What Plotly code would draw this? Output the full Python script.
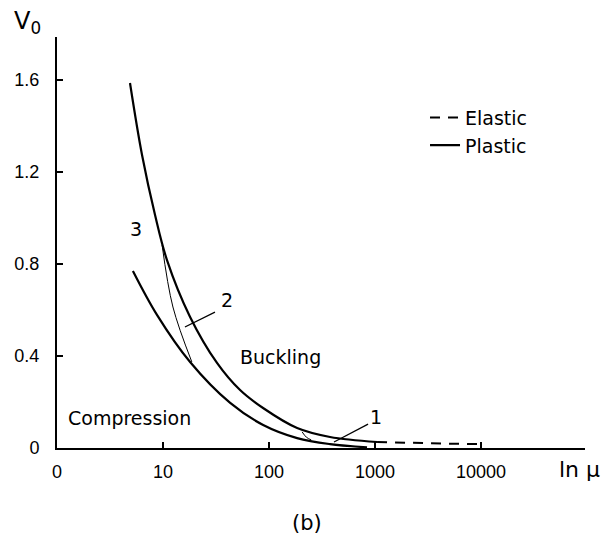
import math
import plotly.graph_objects as go

# ---- data (mu on log axis, V0) ----
upper_mu = [4.88, 6.34, 8.41, 10.9, 18.0, 32.3, 53.3, 87.8, 184, 376, 1044]
upper_v = [1.587, 1.274, 1.013, 0.817, 0.570, 0.370, 0.252, 0.174, 0.087, 0.048, 0.026]

lower_mu = [5.2, 8.8, 18, 43, 88, 184, 376, 840]
lower_v = [0.77, 0.578, 0.374, 0.196, 0.10, 0.043, 0.017, 0.003]

elastic_mu = [1044, 2000, 5000, 9400]
elastic_v = [0.026, 0.022, 0.019, 0.017]

thin3_mu = [9.8, 12.4, 18.7]
thin3_v = [0.883, 0.613, 0.374]

thin1_mu = [205, 225, 250]
thin1_v = [0.07, 0.047, 0.035]

lead2_mu = [16.1, 30.9]
lead2_v = [0.526, 0.591]
lead1_mu = [410, 859]
lead1_v = [0.026, 0.104]

x_tickvals = [1, 10, 100, 1000, 10000]
x_ticktext = ["0", "10", "100", "1000", "10000"]
y_tickvals = [0, 0.4, 0.8, 1.2, 1.6]
y_ticktext = ["0", "0.4", "0.8", "1.2", "1.6"]

labels = [("3", 5.56, 0.952), ("2", 40.2, 0.643), ("1", 1023, 0.135),
          ("Buckling", 127, 0.396), ("Compression", 4.78, 0.13)]

fig = go.Figure()
fig.add_trace(go.Scatter(x=elastic_mu, y=elastic_v, mode="lines", name="Elastic",
                         line=dict(color="black", width=2, dash="10px,8px")))
fig.add_trace(go.Scatter(x=upper_mu, y=upper_v, mode="lines", name="Plastic",
                         line=dict(color="black", width=2.2, shape="spline")))
fig.add_trace(go.Scatter(x=lower_mu, y=lower_v, mode="lines", showlegend=False,
                         line=dict(color="black", width=2.2, shape="spline")))
fig.add_trace(go.Scatter(x=thin3_mu, y=thin3_v, mode="lines", showlegend=False,
                         line=dict(color="black", width=1, shape="spline")))
fig.add_trace(go.Scatter(x=thin1_mu, y=thin1_v, mode="lines", showlegend=False,
                         line=dict(color="black", width=1, shape="spline")))
for mx, vy in [(lead2_mu, lead2_v), (lead1_mu, lead1_v)]:
    fig.add_trace(go.Scatter(x=mx, y=vy, mode="lines", showlegend=False,
                             line=dict(color="black", width=1.3)))

for txt, mx, vy in labels:
    fig.add_annotation(x=math.log10(mx), y=vy, text=txt, showarrow=False,
                       xanchor="center", yanchor="middle",
                       font=dict(family="DejaVu Sans", size=19, color="black"))

fig.add_annotation(xref="paper", yref="paper", x=-0.055, y=1.036, text="V<sub>0</sub>",
                   showarrow=False, xanchor="center", yanchor="middle",
                   font=dict(family="DejaVu Sans", size=24, color="black"))
fig.add_annotation(xref="paper", yref="paper", x=0.989, y=-0.0535, text="ln μ",
                   showarrow=False, xanchor="center", yanchor="middle",
                   font=dict(family="DejaVu Sans", size=22, color="black"))
fig.add_annotation(xref="paper", yref="paper", x=0.4735, y=-0.1825, text="(b)",
                   showarrow=False, xanchor="center", yanchor="middle",
                   font=dict(family="DejaVu Sans", size=21, color="black"))

fig.update_layout(
    width=609, height=543,
    margin=dict(l=57, r=24, t=37, b=95),
    paper_bgcolor="white", plot_bgcolor="white",
    showlegend=True,
    legend=dict(x=0.697, y=0.85, xanchor="left", yanchor="top",
                bgcolor="rgba(0,0,0,0)", font=dict(family="DejaVu Sans", size=19, color="black"),
                tracegroupgap=0),
)
fig.update_xaxes(type="log", range=[0, 4.98], tickvals=x_tickvals, ticktext=x_ticktext,
                 ticks="inside", ticklen=6, tickwidth=1.5, tickcolor="black",
                 showline=True, linecolor="black", linewidth=2, showgrid=False, zeroline=False,
                 ticklabelstandoff=6, automargin=False,
                 tickfont=dict(family="Liberation Sans", size=18, color="black"))
fig.update_yaxes(range=[0, 1.787], tickvals=y_tickvals, ticktext=y_ticktext,
                 ticks="inside", ticklen=6, tickwidth=1.5, tickcolor="black",
                 showline=True, linecolor="black", linewidth=2, showgrid=False, zeroline=False,
                 ticklabelstandoff=12, automargin=False,
                 tickfont=dict(family="Liberation Sans", size=18, color="black"))

fig.write_html("out.html")
